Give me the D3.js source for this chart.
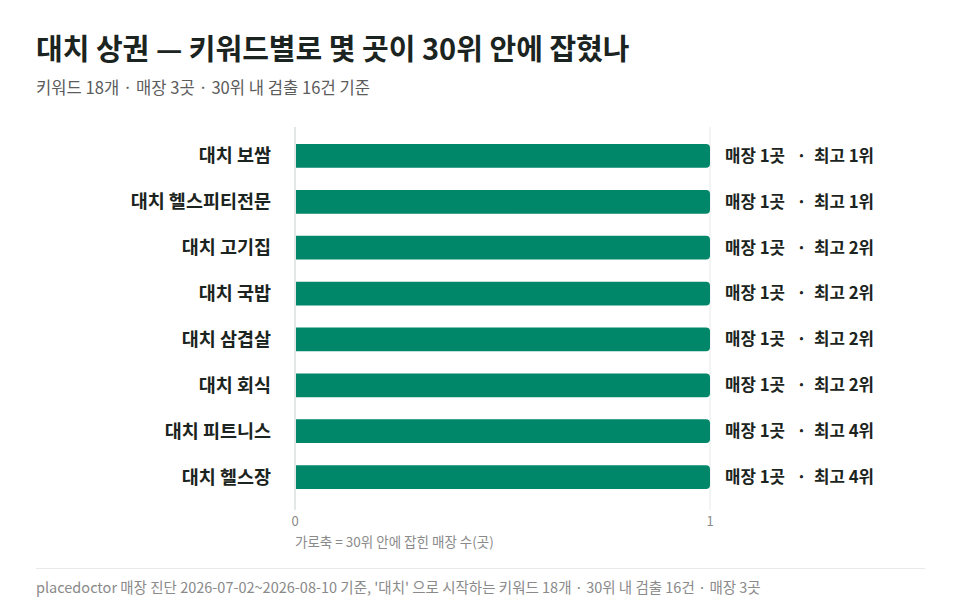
<!DOCTYPE html>
<html>
<head>
<meta charset="utf-8">
<script src="https://cdn.jsdelivr.net/npm/d3@7"></script>
<style>
  body { margin: 0; background: #fff; font-family: "Noto Sans CJK KR", "Noto Sans", sans-serif; }
</style>
</head>
<body>
<div id="chart"></div>
<script>
var keywords = ["대치 보쌈", "대치 헬스피티전문", "대치 고기집", "대치 국밥", "대치 삼겹살", "대치 회식", "대치 피트니스", "대치 헬스장"];
var storeCounts = [1, 1, 1, 1, 1, 1, 1, 1];
var bestRanks = [1, 1, 2, 2, 2, 2, 4, 4];
var xTicks = [0, 1];

var W = 960, H = 615;
var svg = d3.select("#chart").append("svg")
    .attr("width", W)
    .attr("height", H);

var plotLeft = 295, plotRight = 710, plotTop = 133, plotBottom = 500;

var x = d3.scaleLinear().domain([0, 1]).range([plotLeft, plotRight]);
var y = d3.scaleBand().domain(keywords).range([plotTop, plotBottom]).paddingInner(0.48).paddingOuter(0.24);

// title
svg.append("text")
    .attr("x", 36).attr("y", 60)
    .attr("font-size", 29).attr("font-weight", "bold")
    .attr("fill", "#1b2420")
    .text("대치 상권 — 키워드별로 몇 곳이 30위 안에 잡혔나");

svg.append("text")
    .attr("x", 36).attr("y", 94)
    .attr("font-size", 16.6)
    .attr("fill", "#5c5c5c")
    .text("키워드 18개 · 매장 3곳 · 30위 내 검출 16건 기준");

// gridlines
svg.selectAll(".grid").data(xTicks).enter().append("line")
    .attr("x1", function (d) { return x(d); })
    .attr("x2", function (d) { return x(d); })
    .attr("y1", 127).attr("y2", 510)
    .attr("stroke", function (d) { return d == 0 ? "#c8d0cd" : "#e6eae8"; })
    .attr("stroke-width", 1);

// bars: square left end, rounded right end
var r = 4, bh = y.bandwidth();
svg.selectAll(".bar").data(keywords).enter().append("path")
    .attr("fill", "#00876a")
    .attr("d", function (d, i) {
        var x0 = x(0) + 1, x1 = x(storeCounts[i]), y0 = y(d), h = bh;
        return "M" + x0 + "," + y0 +
            "H" + (x1 - r) +
            "Q" + x1 + "," + y0 + " " + x1 + "," + (y0 + r) +
            "V" + (y0 + h - r) +
            "Q" + x1 + "," + (y0 + h) + " " + (x1 - r) + "," + (y0 + h) +
            "H" + x0 + "Z";
    });

// category labels
svg.selectAll(".cat").data(keywords).enter().append("text")
    .attr("x", 271)
    .attr("y", function (d) { return y(d) + bh / 2; })
    .attr("dy", "0.35em")
    .attr("text-anchor", "end")
    .attr("font-size", 18.5).attr("font-weight", "bold")
    .attr("fill", "#1b2420")
    .text(function (d) { return d; });

// value labels
svg.selectAll(".val").data(keywords).enter().append("text")
    .attr("x", function (d, i) { return x(storeCounts[i]) + 15; })
    .attr("y", function (d) { return y(d) + bh / 2; })
    .attr("dy", "0.35em")
    .attr("font-size", 16.8).attr("font-weight", "bold")
    .attr("fill", "#1b2420")
    .style("white-space", "pre")
    .text(function (d, i) { return "매장 " + storeCounts[i] + "곳   ·  최고 " + bestRanks[i] + "위"; });

// x ticks
svg.selectAll(".tick").data(xTicks).enter().append("text")
    .attr("x", function (d) { return x(d); })
    .attr("y", 526)
    .attr("text-anchor", "middle")
    .attr("font-size", 13)
    .attr("fill", "#8a8a8a")
    .text(function (d) { return d; });

svg.append("text")
    .attr("x", 295).attr("y", 547)
    .attr("font-size", 13.5)
    .attr("fill", "#8a8a8a")
    .text("가로축 = 30위 안에 잡힌 매장 수(곳)");

// footer
svg.append("line")
    .attr("x1", 36).attr("x2", 925)
    .attr("y1", 568.5).attr("y2", 568.5)
    .attr("stroke", "#e6eae8");

svg.append("text")
    .attr("x", 36).attr("y", 593)
    .attr("font-size", 14.5)
    .attr("fill", "#8a8a8a")
    .text("placedoctor 매장 진단 2026-07-02~2026-08-10 기준, '대치' 으로 시작하는 키워드 18개 · 30위 내 검출 16건 · 매장 3곳");
</script>
</body>
</html>
